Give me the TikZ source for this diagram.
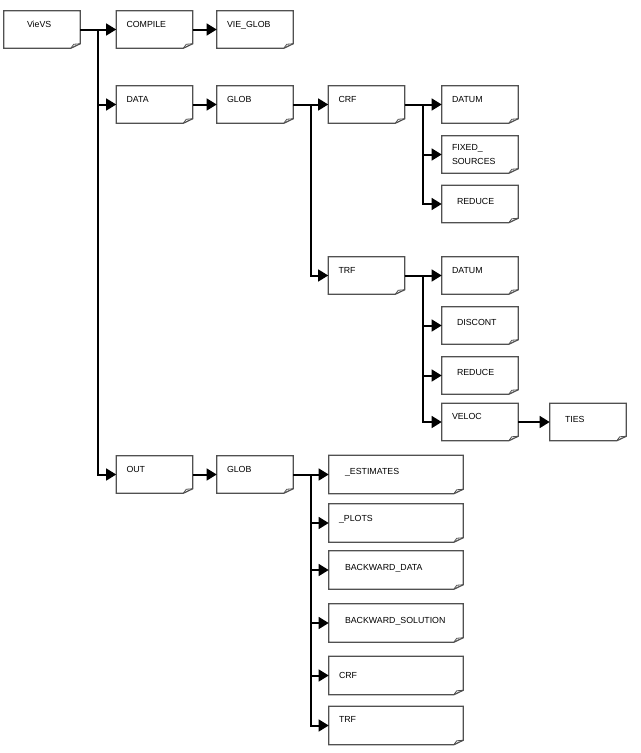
\documentclass[tikz,border=0pt]{standalone}
\usepackage{fontspec}
\setmainfont{Liberation Sans}
\usetikzlibrary{arrows.meta, calc}
\definecolor{fline}{HTML}{505050}
\tikzset{
  fbox/.style={minimum width=57pt, minimum height=27.75pt, inner ysep=0pt,
               inner xsep=7.5pt, text width=42pt, align=left,
               text height=4.7pt, text depth=7.5pt,
               font=\fontsize{6.6}{10.5}\selectfont},
  farbox/.style={fbox, inner xsep=11.25pt, text width=34.5pt, text depth=4.5pt},
  wbox/.style={fbox, minimum width=100.5pt, minimum height=28.5pt, text width=85.5pt},
  farwbox/.style={wbox, inner xsep=12pt, text width=76.5pt, text depth=4.5pt},
  boxline/.style={draw=fline, line width=0.9pt, line join=miter},
  arr/.style={-{Triangle[length=7.5pt, width=8.8pt]}, line width=1.5pt, black},
}

\begin{document}
\begin{tikzpicture}[x=0.75pt, y=-0.75pt]
  \useasboundingbox (0,0) rectangle (640,753);

  %% ── top level ──
  \node[fbox, inner xsep=17.25pt, text width=22.5pt] (vievs) at (42,29.5) {VieVS};
  \node[fbox] (compile) at (154.5,29.5) {COMPILE};
  \node[fbox] (vieglob) at (255,29.5) {VIE\_GLOB};
  \node[fbox] (data) at (154.5,104.5) {DATA};
  \node[fbox] (out) at (154.5,474.5) {OUT};

  %% ── DATA branch ──
  \node[fbox] (glob) at (255,104.5) {GLOB};
  \node[fbox] (crf) at (366.5,104.5) {CRF};
  \node[fbox] (crfdatum) at (480,104.5) {DATUM};
  \node[fbox, text depth=10.5pt] (crffixed) at (480,154.5) {FIXED\_\\SOURCES};
  \node[farbox] (crfreduce) at (480,204) {REDUCE};
  \node[fbox] (trf) at (366.5,275.5) {TRF};
  \node[fbox] (trfdatum) at (480,275.5) {DATUM};
  \node[farbox] (trfdiscont) at (480,325.5) {DISCONT};
  \node[farbox] (trfreduce) at (480,375.5) {REDUCE};
  \node[fbox, text depth=9pt] (trfveloc) at (480,422) {VELOC};
  \node[farbox] (ties) at (588,422) {TIES};

  %% ── OUT branch ──
  \node[fbox] (outglob) at (255,474.5) {GLOB};
  \node[farwbox] (estim) at (396,474.5) {\_ESTIMATES};
  \node[wbox] (plots) at (396,523) {\_PLOTS};
  \node[farwbox] (bdata) at (396,570) {BACKWARD\_DATA};
  \node[farwbox] (bsol) at (396,623) {BACKWARD\_SOLUTION};
  \node[wbox, text depth=0pt] (outcrf) at (396,675.5) {CRF};
  \node[wbox, text depth=9pt] (outtrf) at (396,725.5) {TRF};

  %% ── folded-corner outlines ──
  \foreach \n in {vievs,compile,vieglob,data,out,glob,crf,crfdatum,crffixed,
                  crfreduce,trf,trfdatum,trfdiscont,trfreduce,trfveloc,ties,
                  outglob,estim,plots,bdata,bsol,outcrf,outtrf}{
    \draw[boxline] (\n.north west) -- (\n.north east) -- ([yshift=3.4pt]\n.south east)
      -- ([xshift=-7.1pt]\n.south east) -- (\n.south west) -- cycle;
    \draw[boxline, line width=0.6pt] ([xshift=-7.1pt]\n.south east)
      -- ([xshift=-4.9pt, yshift=3pt]\n.south east) -- ([yshift=3.4pt]\n.south east);
  }

  %% ── connectors ──
  \coordinate (t0) at ($(vievs.east)!0.5!(compile.west)$);
  \draw[arr] (vievs) -- (compile);
  \draw[arr] (vievs.east) -- (t0) |- (data.west);
  \draw[arr] (vievs.east) -- (t0) |- (out.west);
  \draw[arr] (compile) -- (vieglob);
  \draw[arr] (data) -- (glob);
  \draw[arr] (out) -- (outglob);

  \coordinate (t1) at ($(glob.east)!0.5!(crf.west)$);
  \draw[arr] (glob) -- (crf);
  \draw[arr] (glob.east) -- (t1) |- (trf.west);

  \coordinate (t2) at ($(crf.east)!0.5!(crfdatum.west)$);
  \draw[arr] (crf) -- (crfdatum);
  \foreach \c in {crffixed,crfreduce}
    \draw[arr] (crf.east) -- (t2) |- (\c.west);

  \coordinate (t3) at ($(trf.east)!0.5!(trfdatum.west)$);
  \draw[arr] (trf) -- (trfdatum);
  \foreach \c in {trfdiscont,trfreduce,trfveloc}
    \draw[arr] (trf.east) -- (t3) |- (\c.west);
  \draw[arr] (trfveloc) -- (ties);

  \coordinate (t4) at ($(outglob.east)!0.5!(estim.west)$);
  \draw[arr] (outglob) -- (estim);
  \foreach \c in {plots,bdata,bsol,outcrf,outtrf}
    \draw[arr] (outglob.east) -- (t4) |- (\c.west);
\end{tikzpicture}
\end{document}
